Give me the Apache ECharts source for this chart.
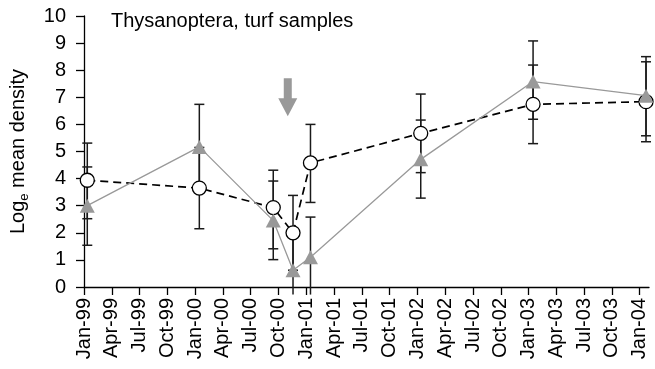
<!DOCTYPE html>
<html>
<head>
<meta charset="utf-8">
<script src="https://cdn.jsdelivr.net/npm/echarts@6/dist/echarts.min.js"></script>
<style>html,body{margin:0;padding:0;background:#fff}#c{width:655px;height:369px}</style>
</head>
<body>
<div id="c"></div>
<script>
// ---- data ----
var sampleDates = ['1999-01-12','2000-01-15','2000-09-14','2000-11-18','2001-01-15','2002-01-12','2003-01-16','2004-01-22'];
var circleMean = [3.94, 3.65, 2.93, 2.00, 4.58, 5.67, 6.74, 6.84];
var circleLow  = [2.52, 2.15, 1.41, 0.62, 3.12, 4.22, 5.29, 5.36];
var circleHigh = [5.31, 5.15, 4.31, 3.38, 6.00, 7.12, 8.19, 8.31];
var triMean = [3.00, 5.17, 2.45, 0.62, 1.10, 4.71, 7.58, 7.06];
var triLow  = [1.54, 3.65, 1.01, -0.28, -0.28, 3.28, 6.19, 5.58];
var triHigh = [4.43, 6.74, 3.91, 2.00, 2.58, 6.16, 9.08, 8.50];
var tickLabels = ['Jan-99','Apr-99','Jul-99','Oct-99','Jan-00','Apr-00','Jul-00','Oct-00','Jan-01','Apr-01','Jul-01','Oct-01','Jan-02','Apr-02','Jul-02','Oct-02','Jan-03','Apr-03','Jul-03','Oct-03','Jan-04'];
var yTicks = [0,1,2,3,4,5,6,7,8,9,10];
var arrowDate = '2000-11-01', arrowTop = 7.7, arrowTip = 6.3;

// months since 1 Jan 1999
function toMonths(s){
  var p = s.split('-'), y = +p[0], m = +p[1], d = +p[2];
  var dim = new Date(y, m, 0).getDate();
  return (y - 1999) * 12 + (m - 1) + (d - 1) / dim;
}
var xs = sampleDates.map(toMonths);
var tickValues = tickLabels.map(function(_, i){ return i * 3; });

var FONT = 'Liberation Sans, Arial, sans-serif';
var chart = echarts.init(document.getElementById('c'), null, {renderer:'canvas'});

function errData(mean, lo, hi){
  return xs.map(function(x, i){ return [x, mean[i], lo[i], hi[i]]; });
}
function errRender(params, api){
  var x = api.value(0), lo = api.value(2), hi = api.value(3);
  var pHi = api.coord([x, hi]), pLo = api.coord([x, lo]);
  var st = {stroke:'#1a1a1a', lineWidth:1.5};
  var ch = [{type:'line', shape:{x1:pHi[0], y1:pHi[1], x2:pLo[0], y2:pLo[1]}, style:st}];
  if (hi >= 0 && hi <= 10) ch.push({type:'line', shape:{x1:pHi[0]-5, y1:pHi[1], x2:pHi[0]+5, y2:pHi[1]}, style:st});
  if (lo >= 0 && lo <= 10) ch.push({type:'line', shape:{x1:pLo[0]-5, y1:pLo[1], x2:pLo[0]+5, y2:pLo[1]}, style:st});
  return {type:'group', children:ch};
}

var option = {
  animation:false,
  title:{text:'Thysanoptera, turf samples', left:111, top:11, padding:0,
    textStyle:{fontFamily:FONT, fontSize:20, fontWeight:'normal', color:'#000'}},
  grid:{left:80, right:6, top:16, bottom:82, containLabel:false},
  xAxis:{type:'value', min:0, max:61,
    axisLine:{show:true, onZero:false, lineStyle:{color:'#000', width:1.3}},
    axisTick:{show:true, length:8, customValues:tickValues, lineStyle:{color:'#000', width:1.3}},
    axisLabel:{show:true, rotate:90, margin:11, customValues:tickValues, fontFamily:FONT, fontSize:20, color:'#000',
      formatter:function(v){ var i = Math.round(v/3); return tickLabels[i] || ''; }},
    splitLine:{show:false}},
  yAxis:{type:'value', min:0, max:10, interval:1,
    name:'{m|Log}{s|e}{m| mean density}', nameLocation:'middle', nameRotate:90, nameGap:56,
    nameTextStyle:{fontFamily:FONT, color:'#000', padding:[0,0,0,0],
      rich:{m:{fontFamily:FONT, fontSize:20, color:'#000', lineHeight:24, verticalAlign:'bottom'},
            s:{fontFamily:FONT, fontSize:13, color:'#000', lineHeight:24, verticalAlign:'bottom', padding:[0,0,-3,0]}}},
    axisLine:{show:true, lineStyle:{color:'#000', width:1.3}},
    axisTick:{show:true, length:8, lineStyle:{color:'#000', width:1.3}},
    axisLabel:{margin:18, fontFamily:FONT, fontSize:20, color:'#000',
      formatter:function(v){ return yTicks.indexOf(v) >= 0 ? String(v) : ''; }},
    splitLine:{show:false}},
  series:[
    {type:'custom', name:'errCircle', renderItem:errRender, data:errData(circleMean, circleLow, circleHigh), z:2, clip:false,
      encode:{x:0, y:[2,3]}},
    {type:'custom', name:'errTri', renderItem:errRender, data:errData(triMean, triLow, triHigh), z:2, clip:false,
      encode:{x:0, y:[2,3]}},
    {type:'line', name:'circles', data:xs.map(function(x,i){return [x, circleMean[i]];}), z:3,
      symbol:'circle', symbolSize:14, showAllSymbol:true,
      lineStyle:{color:'#000', width:1.7, type:[8,5]},
      itemStyle:{color:'#fff', borderColor:'#000', borderWidth:1.3}},
    {type:'line', name:'triangles', data:xs.map(function(x,i){return [x, triMean[i]];}), z:4,
      symbol:'triangle', symbolSize:[15,14], showAllSymbol:true,
      lineStyle:{color:'#999', width:1.3},
      itemStyle:{color:'#999', borderWidth:0}},
    {type:'custom', name:'arrow', z:5, clip:false, data:[[toMonths(arrowDate), arrowTop, arrowTip]],
      renderItem:function(params, api){
        var x = api.value(0);
        var t = api.coord([x, api.value(1)]), b = api.coord([x, api.value(2)]);
        var cx = t[0], head = 18, sw = 4, hw = 9.5, hs = b[1] - head;
        return {type:'polygon', shape:{points:[[cx-sw,t[1]],[cx+sw,t[1]],[cx+sw,hs],[cx+hw,hs],[cx,b[1]],[cx-hw,hs],[cx-sw,hs]]},
          style:{fill:'#999'}};
      }}
  ]
};
chart.setOption(option);
</script>
</body>
</html>
